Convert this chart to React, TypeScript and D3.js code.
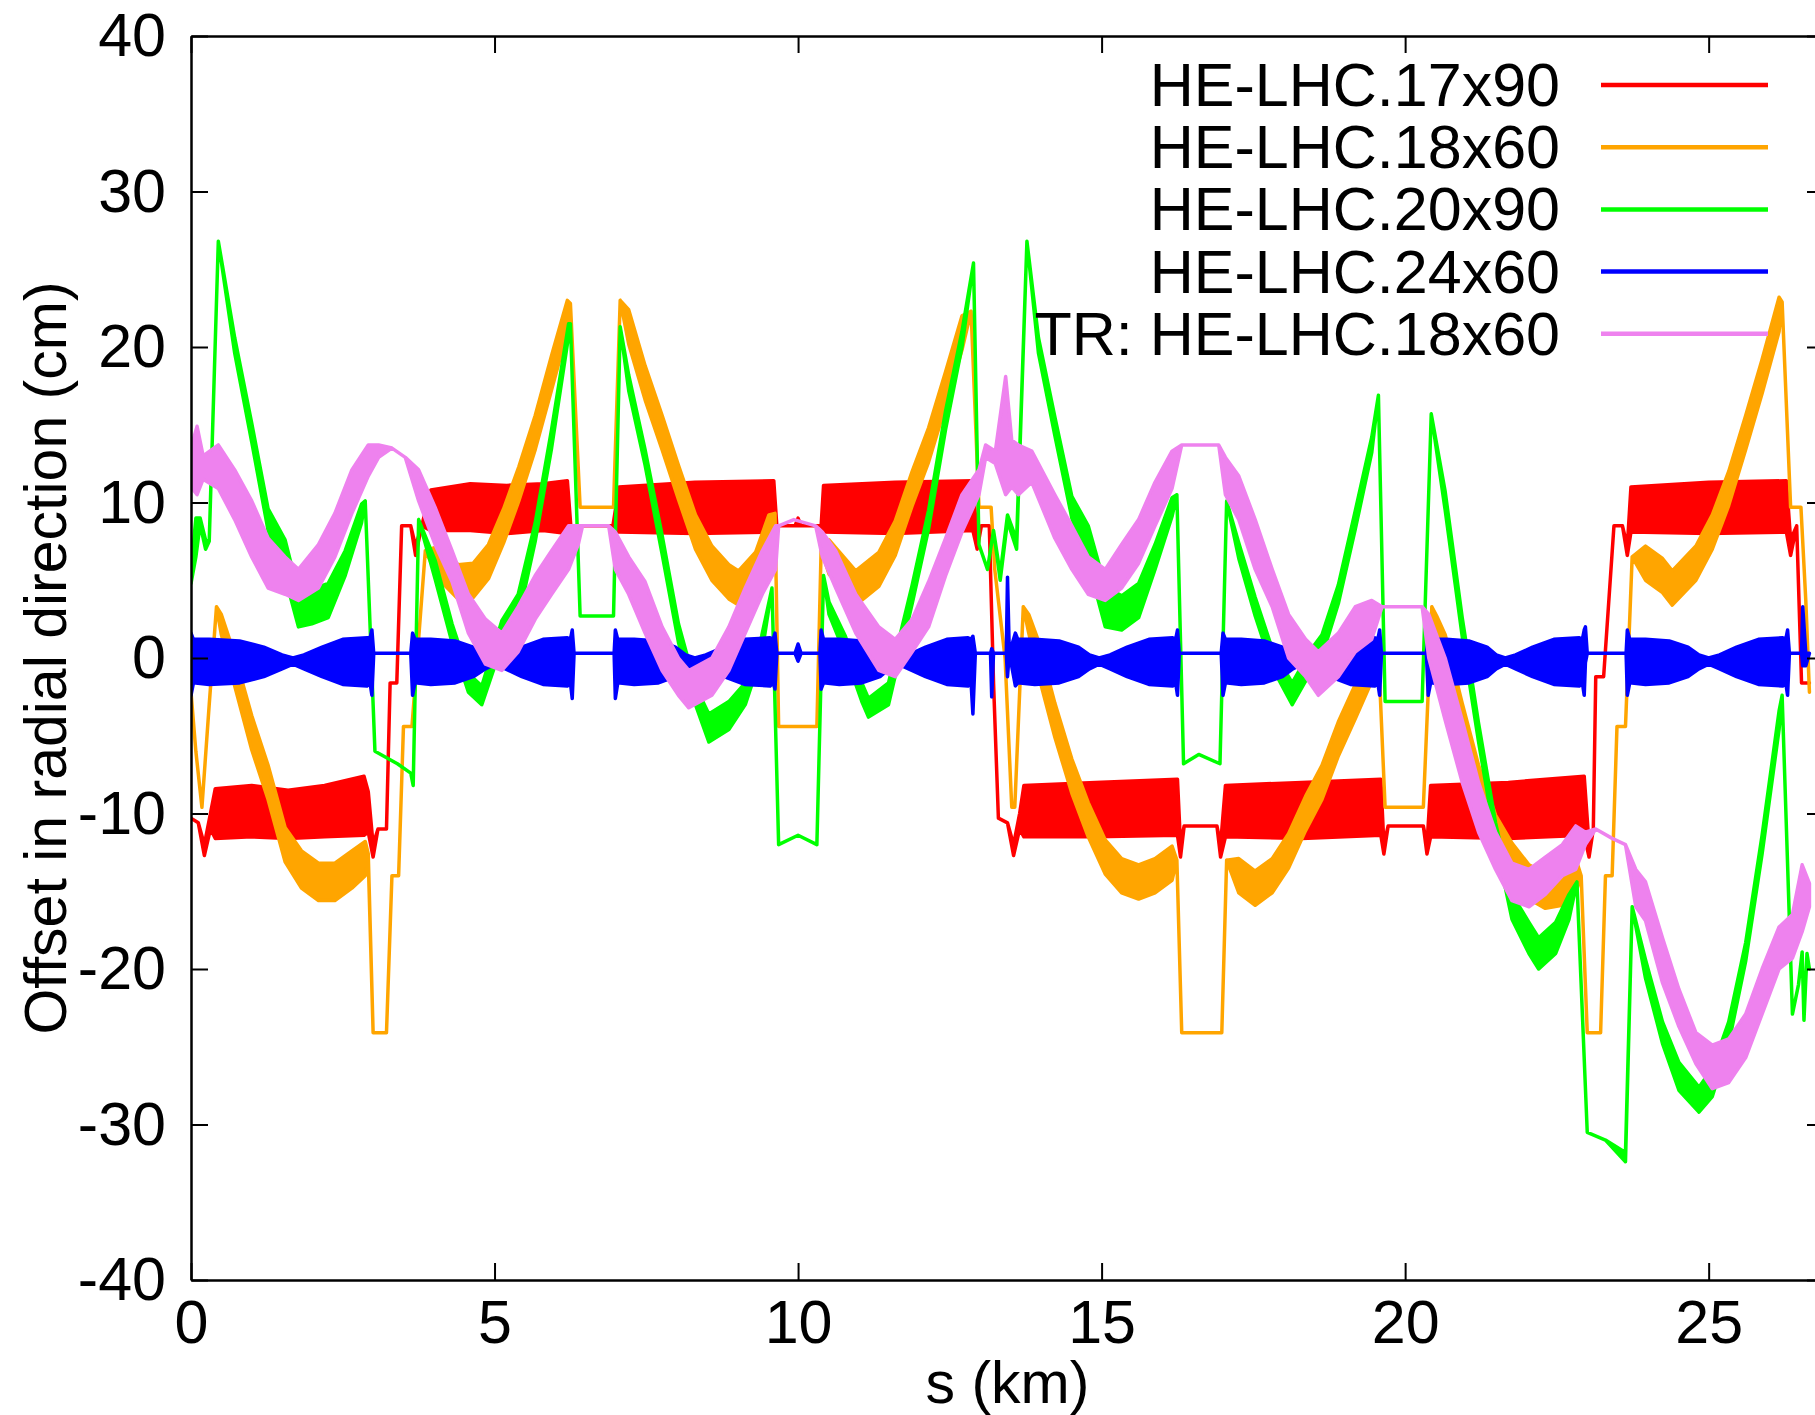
import React, { useEffect, useRef } from "react";
import * as d3 from "d3";

type Pt = [number, number, number]; // s (km), low edge, high edge (cm)

const W = 1815;
const H = 1415;
const PLOT = { left: 191, top: 36, right: 1824, bottom: 1280 };
const FONT = "'Liberation Sans', Arial, Helvetica, sans-serif";

const xTicks = [0, 5, 10, 15, 20, 25];
const yTicks = [-40, -30, -20, -10, 0, 10, 20, 30, 40];

const seriesNames = ["HE-LHC.17x90", "HE-LHC.18x60", "HE-LHC.20x90", "HE-LHC.24x60", "TR: HE-LHC.18x60"];
const seriesColors = ["#ff0000", "#ffa500", "#00ff00", "#0000ff", "#ee82ee"];

// HE-LHC.17x90
const red: Pt[] = [
  [0.0, -10.3, -10.3], [0.12, -10.6, -10.6], [0.22, -12.7, -12.0], [0.32, -11.0, -10.0],
  [0.4, -11.6, -8.4], [1.0, -11.5, -8.2], [1.6, -11.6, -8.5], [2.2, -11.5, -8.2],
  [2.85, -11.4, -7.6], [2.92, -11.2, -8.6], [3.0, -12.8, -12.0], [3.08, -11.0, -11.0],
  [3.22, -11.0, -11.0], [3.28, -1.6, -1.6], [3.39, -1.6, -1.6], [3.47, 8.5, 8.5],
  [3.62, 8.5, 8.5], [3.7, 6.6, 7.2], [3.8, 8.5, 8.5], [3.95, 8.2, 10.8],
  [4.6, 8.2, 11.2], [5.2, 8.0, 11.1], [5.8, 8.2, 11.2], [6.2, 8.0, 11.4],
  [6.27, 7.2, 7.8], [6.4, 8.5, 8.5], [6.95, 8.5, 8.5], [7.05, 8.1, 11.0],
  [8.3, 8.0, 11.3], [9.6, 8.1, 11.4], [9.65, 8.5, 8.5], [9.95, 8.5, 8.5],
  [10.0, 8.5, 9.0], [10.05, 8.5, 8.5], [10.38, 8.5, 8.5], [10.42, 8.1, 11.1],
  [11.6, 8.0, 11.3], [12.88, 8.2, 11.4], [12.95, 7.0, 7.6], [13.02, 8.5, 8.5],
  [13.15, 8.5, 8.5], [13.22, -1.6, -1.6], [13.3, -10.3, -10.3], [13.45, -10.6, -10.6],
  [13.55, -12.7, -12.0], [13.65, -11.0, -10.0], [13.72, -11.5, -8.2], [14.9, -11.5, -8.0],
  [16.25, -11.4, -7.8], [16.3, -12.8, -12.0], [16.36, -10.8, -10.8], [16.9, -10.8, -10.8],
  [16.96, -12.8, -12.0], [17.04, -11.5, -8.2], [18.3, -11.6, -8.0], [19.6, -11.4, -7.8],
  [19.65, -12.6, -12.0], [19.72, -10.8, -10.8], [20.3, -10.8, -10.8], [20.36, -12.6, -12.0],
  [20.42, -11.5, -8.2], [21.7, -11.6, -8.0], [22.95, -11.4, -7.6], [23.03, -12.8, -12.0],
  [23.1, -11.0, -11.0], [23.14, -1.2, -1.2], [23.27, -1.2, -1.2], [23.44, 8.5, 8.5],
  [23.58, 8.5, 8.5], [23.66, 6.6, 7.2], [23.72, 8.1, 11.0], [25.0, 8.0, 11.3],
  [26.28, 8.1, 11.4], [26.35, 6.6, 7.6], [26.45, 8.5, 8.5], [26.53, -1.6, -1.6],
  [26.66, -1.6, -1.6],
];

// HE-LHC.18x60
const orange: Pt[] = [
  [0.0, -2.2, -2.2], [0.08, -6.0, -6.0], [0.18, -9.6, -9.6], [0.3, -3.0, -3.0],
  [0.42, 3.3, 3.3], [0.5, 1.5, 2.8], [0.72, -1.8, 0.2], [1.0, -5.9, -3.7],
  [1.27, -9.1, -6.9], [1.55, -13.1, -10.9], [1.82, -14.8, -12.4], [2.1, -15.6, -13.2],
  [2.37, -15.6, -13.2], [2.65, -14.8, -12.4], [2.87, -14.0, -11.8], [2.92, -13.0, -12.6],
  [3.0, -24.1, -24.1], [3.22, -24.1, -24.1], [3.31, -14.0, -14.0], [3.42, -14.0, -14.0],
  [3.5, -4.4, -4.4], [3.64, -4.4, -4.4], [3.86, 6.9, 6.9], [4.1, 5.0, 7.2],
  [4.4, 3.8, 6.0], [4.65, 3.9, 6.1], [4.9, 5.1, 7.3], [5.15, 7.4, 9.6],
  [5.4, 10.1, 12.3], [5.67, 13.4, 15.6], [5.95, 17.4, 19.6], [6.2, 21.0, 23.0],
  [6.25, 22.8, 22.8], [6.41, 9.7, 9.7], [6.96, 9.7, 9.7], [7.07, 23.0, 23.0],
  [7.21, 20.2, 22.4], [7.48, 16.6, 18.8], [7.76, 13.4, 15.6], [8.03, 10.2, 12.4],
  [8.31, 7.0, 9.2], [8.58, 5.0, 7.2], [8.86, 3.8, 6.0], [9.02, 3.4, 5.6],
  [9.3, 4.6, 6.8], [9.52, 7.0, 9.2], [9.62, 9.3, 9.3], [9.68, -4.4, -4.4],
  [10.31, -4.4, -4.4], [10.38, 7.0, 7.0], [10.51, 5.4, 7.6], [10.95, 3.4, 5.6],
  [11.33, 4.6, 6.8], [11.6, 6.6, 8.8], [11.88, 9.8, 12.0], [12.15, 12.6, 14.8],
  [12.43, 16.2, 18.4], [12.7, 19.8, 22.0], [12.85, 22.3, 22.3], [12.98, 9.7, 9.7],
  [13.18, 9.7, 9.7], [13.24, 5.7, 5.7], [13.41, 0.0, 0.0], [13.52, -9.6, -9.6],
  [13.57, -9.6, -9.6], [13.71, 3.3, 3.3], [13.8, 1.6, 2.8], [13.96, -1.1, 1.1],
  [14.23, -5.1, -2.9], [14.51, -8.7, -6.5], [14.78, -11.5, -9.3], [15.06, -13.9, -11.7],
  [15.33, -15.1, -12.9], [15.61, -15.5, -13.3], [15.88, -15.1, -12.9], [16.16, -14.3, -12.1],
  [16.24, -13.0, -13.0], [16.32, -24.1, -24.1], [16.98, -24.1, -24.1], [17.06, -13.0, -13.0],
  [17.26, -15.1, -12.9], [17.53, -15.9, -13.7], [17.81, -15.1, -12.9], [18.08, -13.5, -11.3],
  [18.36, -11.1, -8.9], [18.63, -9.1, -6.9], [18.9, -6.3, -4.1], [19.18, -3.9, -1.7],
  [19.45, -1.5, 0.7], [19.56, 0.4, 0.4], [19.67, -9.6, -9.6], [20.3, -9.6, -9.6],
  [20.44, 3.3, 3.3], [20.52, 1.5, 2.7], [20.66, -0.7, 1.5], [20.94, -5.1, -2.9],
  [21.21, -9.1, -6.9], [21.49, -12.3, -10.1], [21.76, -14.1, -11.9], [22.04, -15.5, -13.3],
  [22.31, -16.1, -13.9], [22.59, -15.9, -13.7], [22.81, -15.1, -12.9], [22.9, -14.0, -14.0],
  [23.0, -24.1, -24.1], [23.22, -24.1, -24.1], [23.3, -14.0, -14.0], [23.41, -14.0, -14.0],
  [23.49, -4.4, -4.4], [23.63, -4.4, -4.4], [23.74, 6.5, 6.5], [23.96, 5.0, 7.2],
  [24.24, 4.2, 6.4], [24.4, 3.4, 5.6], [24.79, 5.0, 7.2], [25.06, 7.0, 9.2],
  [25.33, 9.8, 12.0], [25.61, 13.4, 15.6], [25.88, 17.0, 19.2], [26.16, 21.0, 23.2],
  [26.21, 22.9, 22.9], [26.35, 9.7, 9.7], [26.52, 9.7, 9.7], [26.6, 3.7, 3.7],
  [26.66, -2.2, -2.2],
];

// HE-LHC.20x90
const green: Pt[] = [
  [0.0, 4.8, 5.6], [0.08, 6.5, 9.0], [0.15, 8.6, 9.0], [0.24, 7.0, 7.6],
  [0.3, 7.5, 7.5], [0.45, 26.8, 26.8], [0.72, 19.6, 20.6], [1.0, 13.9, 15.1],
  [1.27, 8.2, 9.6], [1.55, 5.2, 7.6], [1.77, 2.0, 4.2], [1.99, 2.2, 4.4],
  [2.26, 2.6, 4.8], [2.54, 5.3, 6.9], [2.81, 8.7, 9.9], [2.87, 10.1, 10.1],
  [3.03, -6.0, -6.0], [3.4, -6.8, -6.8], [3.62, -7.4, -7.4], [3.66, -8.2, -8.2],
  [3.75, 8.9, 8.9], [4.02, 5.1, 6.3], [4.3, 1.0, 2.2], [4.57, -2.2, -1.0],
  [4.79, -3.0, -1.8], [5.12, 0.8, 2.4], [5.39, 2.5, 4.1], [5.67, 7.5, 8.7],
  [5.94, 13.5, 14.7], [6.22, 20.7, 21.5], [6.25, 21.5, 21.5], [6.41, 2.7, 2.7],
  [6.96, 2.7, 2.7], [7.07, 21.3, 21.3], [7.21, 17.2, 18.2], [7.48, 12.4, 13.4],
  [7.76, 6.7, 7.9], [8.03, 1.0, 2.2], [8.31, -3.0, -1.8], [8.53, -5.4, -3.6],
  [8.86, -4.6, -2.8], [9.13, -3.0, -1.6], [9.4, 0.2, 1.4], [9.57, 4.5, 4.5],
  [9.68, -12.0, -12.0], [10.0, -11.4, -11.4], [10.31, -12.0, -12.0], [10.42, 5.3, 5.3],
  [10.51, 2.8, 3.6], [10.78, 0.2, 1.4], [11.05, -2.8, -1.6], [11.16, -3.8, -2.6],
  [11.49, -3.0, -1.6], [11.88, 3.5, 4.7], [12.15, 8.3, 9.5], [12.43, 14.7, 15.9],
  [12.7, 20.0, 21.0], [12.89, 25.4, 25.4], [12.98, 7.3, 7.3], [13.12, 5.7, 5.7],
  [13.22, 8.2, 8.2], [13.33, 5.0, 5.4], [13.45, 8.8, 9.2], [13.6, 7.0, 7.6],
  [13.77, 26.8, 26.8], [13.96, 19.6, 20.6], [14.23, 14.3, 15.5], [14.51, 9.0, 10.4],
  [14.78, 6.1, 8.5], [15.06, 2.0, 4.6], [15.33, 1.8, 4.0], [15.61, 2.6, 4.8],
  [15.88, 5.7, 7.3], [16.16, 9.1, 10.3], [16.24, 10.5, 10.5], [16.35, -6.8, -6.8],
  [16.6, -6.2, -6.2], [16.95, -6.8, -6.8], [17.06, 10.1, 10.1], [17.26, 6.4, 7.4],
  [17.53, 2.7, 3.9], [17.81, -0.6, 0.6], [18.14, -3.0, -1.6], [18.46, -0.8, 0.6],
  [18.63, 0.1, 1.5], [18.9, 3.5, 4.7], [19.18, 8.3, 9.5], [19.45, 13.2, 14.2],
  [19.56, 16.9, 16.9], [19.67, -2.8, -2.8], [20.28, -2.8, -2.8], [20.43, 15.7, 15.7],
  [20.66, 9.5, 10.7], [20.94, 1.4, 2.6], [21.21, -5.4, -4.2], [21.49, -11.8, -10.6],
  [21.76, -16.8, -15.2], [22.04, -19.0, -17.0], [22.2, -20.0, -18.0], [22.48, -19.0, -17.0],
  [22.7, -16.8, -15.2], [22.83, -14.4, -14.4], [23.0, -30.5, -30.5], [23.3, -31.0, -31.0],
  [23.63, -32.4, -31.8], [23.74, -16.0, -16.0], [23.96, -20.6, -19.4], [24.24, -24.8, -23.4],
  [24.51, -27.8, -26.0], [24.84, -29.2, -27.6], [25.06, -28.2, -26.4], [25.33, -24.8, -23.4],
  [25.61, -19.5, -18.3], [25.88, -12.6, -11.4], [26.16, -4.6, -3.4], [26.21, -2.4, -2.4],
  [26.38, -22.9, -22.9], [26.48, -21.0, -21.0], [26.54, -18.9, -18.9], [26.57, -23.3, -23.3],
  [26.62, -19.0, -19.0], [26.66, -20.0, -20.0],
];

// HE-LHC.24x60
const blue: Pt[] = [
  [0.0, -2.4, 1.6], [0.04, -1.6, 1.2], [0.3, -1.7, 1.2], [0.8, -1.6, 1.1],
  [1.2, -1.2, 0.7], [1.5, -0.7, 0.2], [1.68, -0.4, 0.0], [1.86, -0.7, 0.2],
  [2.16, -1.2, 0.7], [2.5, -1.7, 1.2], [2.9, -1.8, 1.3], [2.95, -1.6, 1.3],
  [2.98, -2.4, 1.8], [3.01, 0.3, 0.3], [3.62, 0.3, 0.3],
  [3.65, -2.4, 1.6], [3.69, -1.6, 1.2], [3.95, -1.7, 1.2], [4.35, -1.6, 1.1],
  [4.65, -1.2, 0.7], [4.85, -0.7, 0.2], [5.0, -0.4, 0.0], [5.18, -0.7, 0.2],
  [5.45, -1.2, 0.7], [5.8, -1.7, 1.2], [6.2, -1.8, 1.3], [6.25, -1.6, 1.2],
  [6.28, -2.6, 1.8], [6.31, 0.3, 0.3], [6.97, 0.3, 0.3],
  [6.99, -2.6, 1.8], [7.03, -1.6, 1.2], [7.3, -1.7, 1.2], [7.7, -1.6, 1.1],
  [7.98, -1.2, 0.7], [8.15, -0.7, 0.2], [8.3, -0.4, 0.0], [8.48, -0.7, 0.2],
  [8.78, -1.2, 0.7], [9.12, -1.7, 1.2], [9.54, -1.8, 1.3], [9.59, -1.6, 1.2],
  [9.62, -2.0, 1.6], [9.65, 0.3, 0.3], [9.95, 0.3, 0.3], [10.0, -0.2, 0.9],
  [10.05, 0.3, 0.3], [10.36, 0.3, 0.3],
  [10.38, -2.0, 1.8], [10.42, -1.6, 1.2], [10.68, -1.7, 1.2], [11.05, -1.6, 1.1],
  [11.35, -1.2, 0.7], [11.5, -0.7, 0.2], [11.65, -0.4, 0.0], [11.82, -0.7, 0.2],
  [12.1, -1.2, 0.7], [12.45, -1.7, 1.2], [12.8, -1.8, 1.3], [12.85, -1.6, 1.2],
  [12.88, -3.6, 1.4], [12.92, 0.3, 0.3], [13.17, 0.3, 0.3], [13.19, -2.5, 0.6],
  [13.22, 0.3, 0.3], [13.43, 0.3, 0.3], [13.45, -1.2, 5.2], [13.48, 0.3, 0.3],
  [13.58, -1.8, 1.6], [13.62, -1.6, 1.2], [13.9, -1.7, 1.2], [14.3, -1.6, 1.1],
  [14.62, -1.2, 0.7], [14.8, -0.7, 0.2], [14.96, -0.4, 0.0], [15.14, -0.7, 0.2],
  [15.42, -1.2, 0.7], [15.78, -1.7, 1.2], [16.17, -1.8, 1.3], [16.22, -1.6, 1.2],
  [16.25, -2.4, 1.8], [16.28, 0.3, 0.3], [16.97, 0.3, 0.3],
  [17.0, -2.4, 1.6], [17.04, -1.6, 1.2], [17.3, -1.7, 1.2], [17.68, -1.6, 1.1],
  [17.98, -1.2, 0.7], [18.15, -0.7, 0.2], [18.3, -0.4, 0.0], [18.48, -0.7, 0.2],
  [18.76, -1.2, 0.7], [19.1, -1.7, 1.2], [19.5, -1.8, 1.3], [19.55, -1.6, 1.2],
  [19.58, -2.4, 1.8], [19.61, 0.3, 0.3], [20.35, 0.3, 0.3],
  [20.38, -2.4, 1.6], [20.42, -1.6, 1.2], [20.68, -1.7, 1.2], [21.05, -1.6, 1.1],
  [21.35, -1.2, 0.7], [21.5, -0.7, 0.2], [21.65, -0.4, 0.0], [21.82, -0.7, 0.2],
  [22.1, -1.2, 0.7], [22.45, -1.7, 1.2], [22.87, -1.8, 1.3], [22.92, -1.6, 1.2],
  [22.95, -2.4, 1.8], [22.97, -0.3, 2.0], [23.0, 0.3, 0.3], [23.64, 0.3, 0.3],
  [23.66, -2.4, 1.8], [23.7, -1.6, 1.2], [23.96, -1.7, 1.2], [24.35, -1.6, 1.1],
  [24.66, -1.2, 0.7], [24.84, -0.7, 0.2], [25.0, -0.4, 0.0], [25.18, -0.7, 0.2],
  [25.46, -1.2, 0.7], [25.82, -1.7, 1.2], [26.22, -1.8, 1.3], [26.27, -1.6, 1.2],
  [26.3, -2.4, 1.8], [26.33, 0.3, 0.3], [26.53, 0.3, 0.3], [26.55, -0.5, 3.3],
  [26.6, -0.5, 0.3], [26.66, 0.3, 0.3],
];

// TR: HE-LHC.18x60
const violet: Pt[] = [
  [0.0, 11.0, 13.5], [0.1, 10.5, 14.9], [0.2, 11.5, 13.0], [0.45, 10.9, 13.7],
  [0.72, 8.9, 12.1], [1.0, 6.5, 10.1], [1.27, 4.5, 7.7], [1.55, 4.1, 6.5],
  [1.77, 3.7, 5.7], [2.1, 4.5, 7.3], [2.37, 6.5, 9.3], [2.65, 9.3, 12.1],
  [2.92, 11.7, 13.7], [3.09, 12.9, 13.7], [3.31, 13.5, 13.5], [3.53, 12.9, 12.9],
  [3.75, 10.1, 12.1], [4.02, 7.3, 9.7], [4.3, 4.9, 6.9], [4.57, 1.6, 4.1],
  [4.85, -0.4, 2.5], [5.12, -0.8, 1.6], [5.39, 0.4, 3.3], [5.67, 2.5, 5.3],
  [5.94, 4.1, 6.9], [6.22, 5.7, 8.5], [6.38, 7.3, 8.5], [6.45, 8.5, 8.5],
  [6.88, 8.5, 8.5], [6.99, 5.7, 8.1], [7.21, 4.1, 6.5], [7.48, 1.6, 4.9],
  [7.76, -0.8, 2.0], [8.03, -2.4, 0.0], [8.2, -3.2, -0.8], [8.58, -2.4, 0.0],
  [8.86, -0.8, 2.0], [9.13, 1.6, 4.5], [9.41, 4.1, 6.9], [9.63, 5.7, 8.5],
  [9.68, 8.5, 8.5], [9.93, 8.9, 8.9], [10.29, 8.5, 8.5], [10.4, 6.5, 8.1],
  [10.62, 4.5, 6.9], [10.95, 1.6, 4.1], [11.33, -0.8, 2.0], [11.6, -1.2, 1.2],
  [11.88, 0.4, 2.5], [12.15, 2.0, 4.9], [12.43, 5.3, 7.7], [12.7, 8.1, 10.5],
  [12.98, 10.5, 12.1], [13.09, 12.9, 13.7], [13.25, 12.5, 13.3], [13.42, 10.5, 18.1],
  [13.52, 11.0, 14.0], [13.63, 10.5, 13.7], [13.85, 11.3, 13.3], [14.23, 7.7, 10.5],
  [14.51, 5.7, 8.5], [14.78, 4.1, 6.5], [15.06, 3.7, 5.7], [15.33, 4.5, 7.3],
  [15.61, 6.1, 8.9], [15.88, 8.5, 11.3], [16.16, 10.9, 13.3], [16.32, 13.7, 13.7],
  [16.93, 13.7, 13.7], [17.04, 10.5, 12.9], [17.26, 8.9, 11.7], [17.53, 5.7, 8.9],
  [17.81, 3.3, 5.7], [18.08, 0.0, 2.8], [18.36, -1.2, 1.2], [18.57, -2.4, 0.4],
  [18.9, -1.2, 1.6], [19.18, 0.4, 3.3], [19.45, 1.2, 3.7], [19.62, 3.3, 3.3],
  [20.28, 3.3, 3.3], [20.39, 0.0, 2.8], [20.66, -4.0, 0.0], [20.94, -8.0, -4.0],
  [21.21, -11.2, -8.0], [21.49, -13.6, -11.2], [21.76, -15.6, -13.2], [22.04, -16.0, -13.6],
  [22.31, -15.2, -12.8], [22.59, -14.0, -12.0], [22.81, -13.6, -10.8], [22.97, -12.0, -11.2],
  [23.14, -11.0, -11.0], [23.41, -11.6, -11.6], [23.63, -12.0, -12.0], [23.8, -16.0, -13.6],
  [23.96, -16.9, -14.4], [24.24, -20.9, -18.0], [24.51, -23.7, -21.3], [24.79, -26.1, -24.1],
  [25.06, -27.7, -24.9], [25.33, -27.3, -24.5], [25.61, -25.7, -22.9], [25.88, -22.9, -20.0],
  [26.16, -20.0, -17.3], [26.38, -19.3, -16.5], [26.54, -17.6, -13.3], [26.66, -16.0, -14.5],
];

const seriesData = [red, orange, green, blue, violet];

export default function App() {
  const svgRef = useRef<SVGSVGElement>(null);

  useEffect(() => {
    const svg = d3.select(svgRef.current);
    svg.selectAll("*").remove();

    const x = d3.scaleLinear().domain([0, 26.9]).range([PLOT.left, PLOT.right]);
    const y = d3.scaleLinear().domain([-40, 40]).range([PLOT.bottom, PLOT.top]);

    svg
      .append("defs")
      .append("clipPath")
      .attr("id", "plot-clip")
      .append("rect")
      .attr("x", PLOT.left)
      .attr("y", PLOT.top)
      .attr("width", PLOT.right - PLOT.left)
      .attr("height", PLOT.bottom - PLOT.top);

    // each trace is drawn as a band between its low and high edge
    const band = d3
      .area<Pt>()
      .x((d) => x(d[0]))
      .y0((d) => y(d[1]))
      .y1((d) => y(d[2]));

    const traces = svg.append("g").attr("clip-path", "url(#plot-clip)");
    seriesData.forEach((data, i) => {
      traces
        .append("path")
        .datum(data)
        .attr("d", band)
        .attr("fill", seriesColors[i])
        .attr("stroke", seriesColors[i])
        .attr("stroke-width", 3.5)
        .attr("stroke-linejoin", "round");
    });

    // frame with inward ticks (gnuplot style), plain hyphen for negatives
    const plain = (d: d3.NumberValue) => `${d}`;
    const styleAxis = (g: d3.Selection<SVGGElement, unknown, null, undefined>) => {
      g.select(".domain").attr("stroke", "#000").attr("stroke-width", 2.5);
      g.selectAll(".tick line").attr("stroke", "#000").attr("stroke-width", 2);
      g.selectAll(".tick text")
        .attr("fill", "#000")
        .style("font-family", FONT)
        .style("font-size", "61px");
    };

    svg
      .append("g")
      .attr("transform", `translate(0,${PLOT.bottom})`)
      .call(d3.axisBottom(x).tickValues(xTicks).tickFormat(plain).tickSizeInner(-17).tickSizeOuter(0).tickPadding(20))
      .call(styleAxis);

    svg
      .append("g")
      .attr("transform", `translate(0,${PLOT.top})`)
      .call(d3.axisTop(x).tickValues(xTicks).tickSizeInner(-17).tickSizeOuter(0).tickFormat(() => ""))
      .call(styleAxis);

    svg
      .append("g")
      .attr("transform", `translate(${PLOT.left},0)`)
      .call(d3.axisLeft(y).tickValues(yTicks).tickFormat(plain).tickSizeInner(-17).tickSizeOuter(0).tickPadding(25))
      .call(styleAxis);

    svg
      .append("g")
      .attr("transform", `translate(${PLOT.right},0)`)
      .call(d3.axisRight(y).tickValues(yTicks).tickSizeInner(-17).tickSizeOuter(0).tickFormat(() => ""))
      .call(styleAxis);

    // axis titles
    svg
      .append("text")
      .attr("x", (PLOT.left + PLOT.right) / 2)
      .attr("y", 1403)
      .attr("text-anchor", "middle")
      .style("font-family", FONT)
      .style("font-size", "59px")
      .text("s (km)");

    svg
      .append("text")
      .attr("transform", `translate(66,${(PLOT.top + PLOT.bottom) / 2}) rotate(-90)`)
      .attr("text-anchor", "middle")
      .style("font-family", FONT)
      .style("font-size", "59px")
      .text("Offset in radial direction (cm)");

    // legend
    const legend = svg.append("g");
    seriesNames.forEach((name, i) => {
      const ly = 85 + i * 62.2;
      legend
        .append("text")
        .attr("x", 1560)
        .attr("y", ly + 21)
        .attr("text-anchor", "end")
        .style("font-family", FONT)
        .style("font-size", "61px")
        .text(name);
      legend
        .append("line")
        .attr("x1", 1601)
        .attr("x2", 1768)
        .attr("y1", ly)
        .attr("y2", ly)
        .attr("stroke", seriesColors[i])
        .attr("stroke-width", 4.5);
    });
  }, []);

  return (
    <svg
      ref={svgRef}
      width={W}
      height={H}
      style={{ position: "absolute", left: 0, top: 0, background: "#fff" }}
    />
  );
}
